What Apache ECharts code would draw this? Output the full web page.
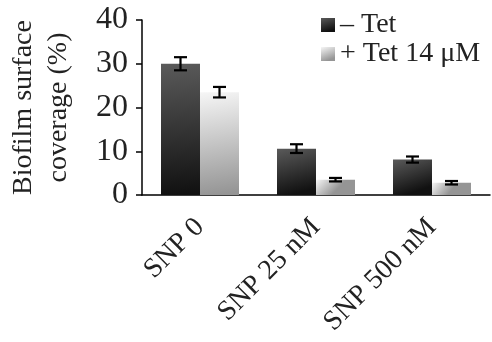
<!DOCTYPE html>
<html>
<head>
<meta charset="utf-8">
<script src="https://cdn.jsdelivr.net/npm/echarts@6/dist/echarts.min.js"></script>
<style>
  html, body { margin: 0; padding: 0; background: #fff; }
  #chart { width: 492px; height: 342px; }
</style>
</head>
<body>
<div id="chart"></div>
<script>
const categories = ['SNP 0', 'SNP 25 nM', 'SNP 500 nM']
const seriesNames = ['– Tet', '+ Tet 14 μM']
const minusTet = [30.0, 10.6, 8.1]
const minusTetErr = [1.5, 1.0, 0.7]
const plusTet = [23.5, 3.5, 2.8]
const plusTetErr = [1.2, 0.4, 0.4]
const yTicks = { min: 0, max: 40, interval: 10 }

const serif = '"Liberation Serif", "DejaVu Serif", serif'

const darkFill = new echarts.graphic.LinearGradient(0, 0, 0.3, 1, [
  { offset: 0, color: '#5a5a5a' },
  { offset: 1, color: '#111111' }
])
const lightFill = new echarts.graphic.LinearGradient(0, 0, 0.4, 1, [
  { offset: 0, color: '#f6f6f6' },
  { offset: 1, color: '#959595' }
])

const chart = echarts.init(document.getElementById('chart'))

// error bar drawn over the bar, offset to its half of the category
const errorSeries = (values, errs, side) => ({
  type: 'custom',
  z: 10,
  data: values.map((v, i) => [i, v, errs[i]]),
  renderItem: (params, api) => {
    const i = api.value(0)
    const v = api.value(1)
    const e = api.value(2)
    const cx = api.coord([i, v])[0] + side * 19.5
    const top = api.coord([i, v + e])[1]
    const bot = api.coord([i, v - e])[1]
    const cap = 6.5
    const style = { stroke: '#000', lineWidth: 2.2 }
    return {
      type: 'group',
      children: [
        { type: 'line', shape: { x1: cx, y1: top, x2: cx, y2: bot }, style },
        { type: 'line', shape: { x1: cx - cap, y1: top, x2: cx + cap, y2: top }, style },
        { type: 'line', shape: { x1: cx - cap, y1: bot, x2: cx + cap, y2: bot }, style }
      ]
    }
  }
})

chart.setOption({
  animation: false,
  grid: { left: 142, right: 2, top: 20, bottom: 147, outerBoundsMode: 'none', containLabel: false },
  legend: {
    orient: 'vertical',
    left: 316,
    top: 6,
    icon: 'rect',
    itemWidth: 14,
    itemHeight: 14,
    itemGap: 1,
    data: seriesNames,
    textStyle: { fontFamily: serif, fontSize: 28, color: '#222', lineHeight: 28 }
  },
  xAxis: {
    type: 'category',
    data: categories,
    axisLine: { lineStyle: { color: '#000', width: 1.5 } },
    axisTick: { length: 6, lineStyle: { color: '#000', width: 1.5 } },
    axisLabel: {
      rotate: 45,
      margin: 28,
      interval: 0,
      fontFamily: serif,
      fontSize: 28,
      color: '#222'
    }
  },
  yAxis: {
    type: 'value',
    min: yTicks.min,
    max: yTicks.max,
    interval: yTicks.interval,
    name: 'Biofilm surface\ncoverage (%)',
    nameLocation: 'middle',
    nameGap: 66,
    nameTextStyle: { fontFamily: serif, fontSize: 28, color: '#222', lineHeight: 35 },
    splitLine: { show: false },
    axisLine: { show: true, lineStyle: { color: '#000', width: 1.5 } },
    axisTick: { show: true, length: 6, lineStyle: { color: '#000', width: 1.5 } },
    axisLabel: { margin: 14, fontFamily: serif, fontSize: 32, color: '#222' }
  },
  series: [
    {
      name: seriesNames[0],
      type: 'bar',
      data: minusTet,
      barWidth: 39,
      barGap: '0%',
      itemStyle: { color: darkFill }
    },
    {
      name: seriesNames[1],
      type: 'bar',
      data: plusTet,
      barWidth: 39,
      itemStyle: { color: lightFill }
    },
    errorSeries(minusTet, minusTetErr, -1),
    errorSeries(plusTet, plusTetErr, 1)
  ]
})
</script>
</body>
</html>
